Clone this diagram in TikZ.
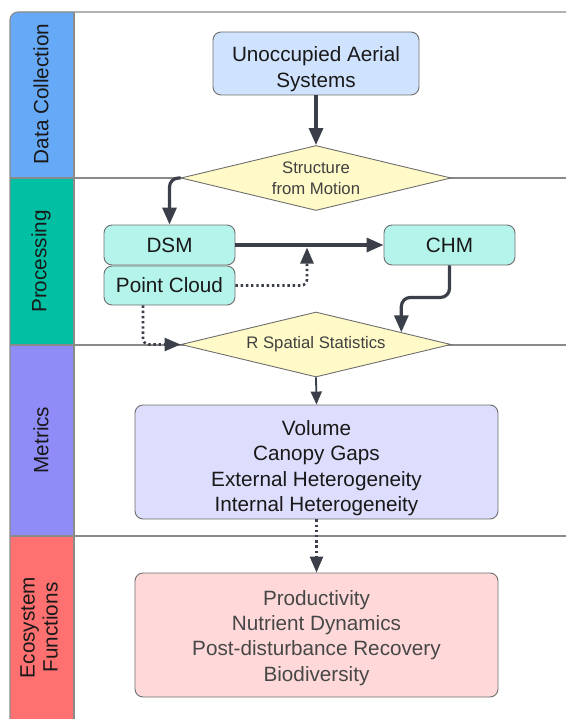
\documentclass[tikz,border=0pt]{standalone}
\usepackage{fontspec}
\setmainfont{Liberation Sans}
\usetikzlibrary{arrows.meta,shapes.geometric,calc}
\definecolor{laneblue}{HTML}{66AAF7}
\definecolor{laneteal}{HTML}{00BFA2}
\definecolor{lanepurple}{HTML}{8F8CF8}
\definecolor{lanered}{HTML}{FF7171}
\definecolor{lanegray}{HTML}{8A8A8A}
\definecolor{boxgray}{HTML}{6E6E6E}
\definecolor{arrowdark}{HTML}{3A3F4A}
\definecolor{uasfill}{HTML}{CFE3FF}
\definecolor{tealfill}{HTML}{B5F4EA}
\definecolor{yellowfill}{HTML}{FFFAC8}
\definecolor{metfill}{HTML}{DDDDFD}
\definecolor{ecofill}{HTML}{FFD9D9}
\begin{document}
\begin{tikzpicture}[x=1pt,y=-1pt,
  lanelabel/.style={rotate=90,font=\fontsize{20.7}{25}\selectfont,align=center,text=black!90},
  boxnode/.style={draw=boxgray,line width=0.9pt,rounded corners=8pt,align=center,inner sep=0pt,text=black!90},
  dia/.style={diamond,shape aspect=4.15,draw=boxgray,line width=0.9pt,fill=yellowfill,inner sep=0pt,align=center,
     minimum width=270pt,minimum height=65pt,font=\fontsize{16.7}{21}\selectfont,text=black!75},
  conn/.style={draw=arrowdark,line width=3.2pt,rounded corners=9pt,
     -{Triangle[length=17pt,width=14pt]}},
  thinconn/.style={draw=arrowdark,line width=1.8pt,-{Triangle[length=13pt,width=11pt]}},
  dotconn/.style={draw=arrowdark,line width=2.6pt,dash pattern=on 2.4pt off 2.8pt,rounded corners=6pt,
     -{Triangle[length=16pt,width=13pt]}}
]
\useasboundingbox (0,0) rectangle (566,719);
% lane bars
\fill[laneblue] (10,178) -- (10,20) arc[start angle=180,end angle=270,radius=8] -- (74,12) -- (74,178) -- cycle;
\fill[laneteal] (10,178) rectangle (74,345);
\fill[lanepurple] (10,345) rectangle (74,536);
\fill[lanered] (10,536) rectangle (74,719);
% lane lines
\draw[lanegray,line width=1.1pt] (10,719) -- (10,20) arc[start angle=180,end angle=270,radius=8] -- (566,12);
\draw[lanegray,line width=1.1pt] (74,12) -- (74,719);
\draw[lanegray,line width=1.1pt] (10,178) -- (566,178);
\draw[lanegray,line width=1.1pt] (10,345) -- (566,345);
\draw[lanegray,line width=1.1pt] (10,536) -- (566,536);
% lane labels
\node[lanelabel] (l1) at (41,94) {Data Collection};
\node[lanelabel] (l2) at (41,261.5) {Processing};
\node[lanelabel] (l3) at (41,440) {Metrics};
\node[lanelabel,font=\fontsize{20.7}{23}\selectfont] (l4) at (39,627.5) {Ecosystem\\Functions};
% nodes
\node[boxnode,fill=uasfill,minimum width=206pt,minimum height=63pt,font=\fontsize{20.7}{26}\selectfont] (uas) at (316,63.5) {\rule{0pt}{25.5pt}Unoccupied Aerial\\Systems};
\node[dia] (sfm) at (316,178) {Structure\\from Motion};
\node[boxnode,fill=tealfill,minimum width=131pt,minimum height=40pt,font=\fontsize{20.7}{24}\selectfont] (dsm) at (169.5,245) {DSM};
\node[boxnode,fill=tealfill,minimum width=131pt,minimum height=39pt,font=\fontsize{20.7}{24}\selectfont] (pc) at (169.5,285.5) {Point Cloud};
\node[boxnode,fill=tealfill,minimum width=131pt,minimum height=40pt,font=\fontsize{20.7}{24}\selectfont] (chm) at (449.5,245) {CHM};
\node[dia] (rss) at (316,344.5) {R Spatial Statistics};
\node[boxnode,fill=metfill,minimum width=363pt,minimum height=114pt,font=\fontsize{20.7}{25.3}\selectfont] (met) at (316.5,462) {\rule{0pt}{27.5pt}Volume\\Canopy Gaps\\External Heterogeneity\\Internal Heterogeneity};
\node[boxnode,fill=ecofill,minimum width=363pt,minimum height=124pt,font=\fontsize{20.7}{25.3}\selectfont,text=black!72] (eco) at (316.5,635) {\rule{0pt}{20.5pt}Productivity\\Nutrient Dynamics\\Post-disturbance Recovery\\Biodiversity};
% helper coordinates
\coordinate (joint) at (307,247.5);
\coordinate (rssin) at ($(rss.north)!0.63!(rss.east)$);
\coordinate (pcout) at ($(pc.south)+(-26.5,0)$);
% connectors
\draw[conn] (uas.south) -- (sfm.north);
\draw[conn] (sfm.west) -| (dsm.north);
\draw[conn] (dsm.east) -- (chm.west);
\draw[dotconn] (pc.east) -| (joint);
\draw[conn] (chm.south) -- ++(0,32) -| (rssin);
\draw[dotconn] (pcout) |- (rss.west);
\draw[thinconn] (rss.south) -- (met.north);
\draw[dotconn] (met.south) -- (eco.north);
\end{tikzpicture}
\end{document}
